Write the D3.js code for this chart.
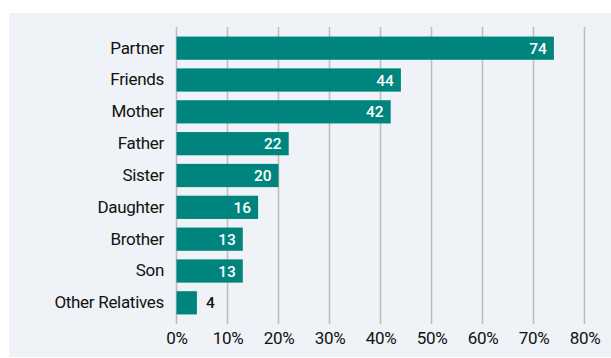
<!DOCTYPE html>
<html>
<head>
<meta charset="utf-8">
<script src="https://cdn.jsdelivr.net/npm/d3@7"></script>
<style>
  html, body { margin: 0; padding: 0; background: #fff; }
  svg { display: block; }
</style>
</head>
<body>
<svg id="chart" width="611" height="358"></svg>
<script>
// data
const categories = ["Partner", "Friends", "Mother", "Father", "Sister", "Daughter", "Brother", "Son", "Other Relatives"];
const values = [74, 44, 42, 22, 20, 16, 13, 13, 4];
const ticks = [0, 10, 20, 30, 40, 50, 60, 70, 80];

const svg = d3.select("#chart");

// panel background
svg.append("rect")
  .attr("x", 9)
  .attr("y", 13)
  .attr("width", 602)
  .attr("height", 344)
  .attr("fill", "#eff2f7");

const x = d3.scaleLinear().domain([0, 80]).range([176.5, 584.5]);
const y = d3.scaleBand().domain(categories).range([27, 324]).paddingInner(0.27).paddingOuter(0.3);

// gridlines
svg.append("g")
  .selectAll("line")
  .data(ticks)
  .join("line")
  .attr("x1", d => x(d))
  .attr("x2", d => x(d))
  .attr("y1", 27)
  .attr("y2", 324)
  .attr("stroke", "#bcbcbc")
  .attr("stroke-width", 1.5);

// x axis labels
const xAxis = d3.axisBottom(x).tickValues(ticks).tickFormat(d => d + "%").tickSize(0).tickPadding(0);
const gx = svg.append("g").attr("transform", "translate(0,332)").call(xAxis);
gx.select(".domain").remove();
gx.selectAll("text")
  .attr("font-family", "Roboto, sans-serif")
  .attr("font-size", 17)
  .attr("letter-spacing", "-0.3px")
  .attr("fill", "#111");

// category labels
const yAxis = d3.axisLeft(y).tickSize(0).tickPadding(0);
const gy = svg.append("g").attr("transform", "translate(164,0)").call(yAxis);
gy.select(".domain").remove();
gy.selectAll("text")
  .attr("font-family", "Roboto, sans-serif")
  .attr("font-size", 17)
  .attr("letter-spacing", "-0.3px")
  .attr("fill", "#111");

// bars
const rows = categories.map((c, i) => ({ cat: c, val: values[i] }));

svg.append("g")
  .selectAll("rect")
  .data(rows)
  .join("rect")
  .attr("x", x(0))
  .attr("y", d => y(d.cat))
  .attr("width", d => x(d.val) - x(0))
  .attr("height", y.bandwidth())
  .attr("fill", "#00847e");

// value labels
svg.append("g")
  .selectAll("text")
  .data(rows)
  .join("text")
  .attr("x", d => d.val < 8 ? x(d.val) + 9 : x(d.val) - 7)
  .attr("y", d => y(d.cat) + y.bandwidth() / 2)
  .attr("dy", "0.36em")
  .attr("text-anchor", d => d.val < 8 ? "start" : "end")
  .attr("font-family", "Roboto, sans-serif")
  .attr("font-weight", 500)
  .attr("font-size", 15.5)
  .attr("fill", d => d.val < 8 ? "#111" : "#fff")
  .text(d => d.val);
</script>
</body>
</html>
